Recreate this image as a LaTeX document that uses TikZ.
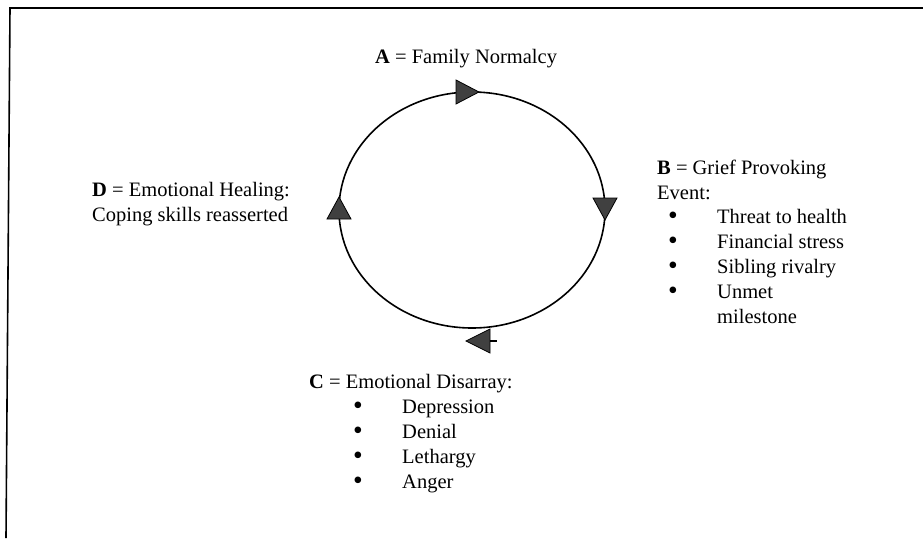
\documentclass[tikz,border=0pt]{standalone}
\usepackage{fontspec}
\setmainfont{Liberation Serif}
\tikzset{
  label text/.style={anchor=base west, inner sep=0pt, align=left,
    font=\fontsize{20.5}{24.8}\selectfont},
  cycle head/.style={draw=black, fill=black!75, line width=0.8pt, line join=miter},
}
% bullet of a list item, in a box of the given width
\newcommand{\bul}[1]{\makebox[#1][l]{\raisebox{-1pt}{\scalebox{1.35}{\textbullet}}}}
\begin{document}
\begin{tikzpicture}[x=1pt, y=-1pt]
        \useasboundingbox (0,0) rectangle (923,538);

        % Frame
        \draw[line width=1.6pt] (923,8) -- (10,8) -- (6,538);

        % Cycle
        \draw[line width=1.6pt] (472,210) ellipse [x radius=133, y radius=118];

        % Arrow heads
        \filldraw[cycle head] (479,92) -- (456,80) -- (456,104) -- cycle;
        \filldraw[cycle head] (605,220) -- (593,198) -- (617,198) -- cycle;
        \filldraw[cycle head] (339,197) -- (327,219) -- (351,219) -- cycle;
        \filldraw[cycle head] (466,341) -- (490,329) -- (490,353) -- cycle;
        \draw[line width=1.2pt] (490,341) -- (497,341);

        % Stages (placed at the baseline of their last line)
        \node[label text] (stageA) at (375,63) {\textbf{A} = Family Normalcy};
        \node[label text] (stageB) at (657,323) {\textbf{B} = Grief Provoking\\Event:\\
          \hspace*{11pt}\bul{49pt}Threat to health\\
          \hspace*{11pt}\bul{49pt}Financial stress\\
          \hspace*{11pt}\bul{49pt}Sibling rivalry\\
          \hspace*{11pt}\bul{49pt}Unmet\\
          \hspace*{60pt}milestone};
        \node[label text] (stageC) at (309,488) {\textbf{C} = Emotional Disarray:\\
          \hspace*{44pt}\bul{49pt}Depression\\
          \hspace*{44pt}\bul{49pt}Denial\\
          \hspace*{44pt}\bul{49pt}Lethargy\\
          \hspace*{44pt}\bul{49pt}Anger};
        \node[label text] (stageD) at (92,221) {\textbf{D} = Emotional Healing:\\Coping skills reasserted};
    \end{tikzpicture}
\end{document}
